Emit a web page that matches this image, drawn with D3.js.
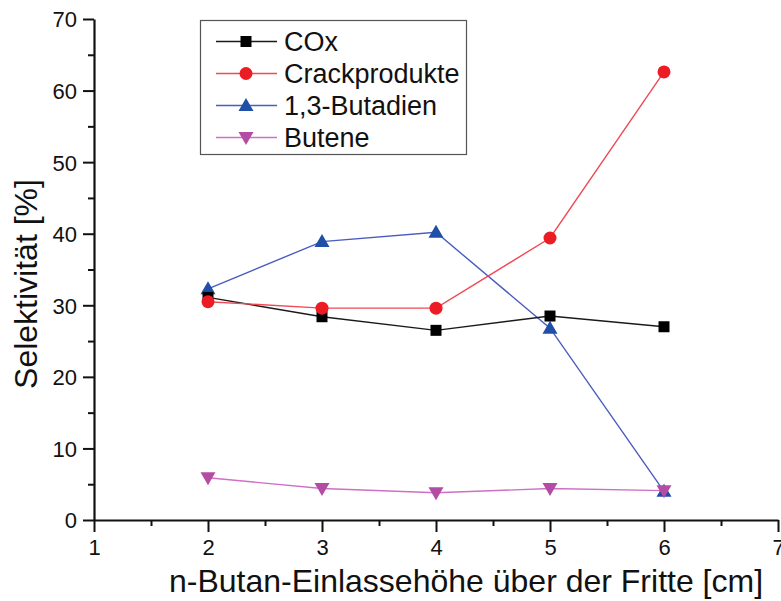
<!DOCTYPE html>
<html>
<head>
<meta charset="utf-8">
<script src="https://cdn.jsdelivr.net/npm/d3@7"></script>
<style>
  html, body { margin: 0; padding: 0; background: #fff; }
  svg { display: block; font-family: "Liberation Sans", Arial, sans-serif; }
</style>
</head>
<body>
<svg id="chart" width="781" height="601"></svg>
<script>
// Inlet height of n-butane above the frit [cm]
const heights = [2, 3, 4, 5, 6];

// Selectivity per product [%]
const cox        = [31.1, 28.4, 26.5, 28.5, 27.0];
const crack      = [30.5, 29.6, 29.6, 39.4, 62.6];
const butadiene  = [32.3, 38.9, 40.2, 26.8, 4.0];
const butenes    = [5.9, 4.4, 3.8, 4.4, 4.1];

const seriesNames = ["COx", "Crackprodukte", "1,3-Butadien", "Butene"];

const xTicks = [1, 2, 3, 4, 5, 6, 7];
const xMinorTicks = [1.5, 2.5, 3.5, 4.5, 5.5, 6.5];
const yTicks = [0, 10, 20, 30, 40, 50, 60, 70];
const yMinorTicks = [5, 15, 25, 35, 45, 55, 65];

const xTitle = "n-Butan-Einlassehöhe über der Fritte [cm]";
const yTitle = "Selektivität [%]";

const svg = d3.select("#chart");

const x = d3.scaleLinear().domain([1, 7]).range([94, 778]);
const y = d3.scaleLinear().domain([0, 70]).range([520, 19]);

// Series styling: marker symbol, fill and line colour
const styles = [
  { values: cox,       fill: "#000000", line: "#1a1a1a", symbol: "square" },
  { values: crack,     fill: "#ec1c24", line: "#ee4a55", symbol: "circle" },
  { values: butadiene, fill: "#1f4fa6", line: "#4a5cc0", symbol: "up" },
  { values: butenes,   fill: "#b54ca3", line: "#cf6fc6", symbol: "down" }
];

function markerPath(kind) {
  switch (kind) {
    case "square": return "M-5.5,-5.5H5.5V5.5H-5.5Z";
    case "circle": return d3.arc()({ innerRadius: 0, outerRadius: 6.5, startAngle: 0, endAngle: 2 * Math.PI });
    case "up":     return "M0,-7.5L7.5,5.5L-7.5,5.5Z";
    case "down":   return "M0,7.5L7.5,-5.5L-7.5,-5.5Z";
  }
}

// Axes
const axisColor = "#111";
const gx = svg.append("g").attr("transform", `translate(0,${y(0)})`)
  .call(d3.axisBottom(x).tickValues(xTicks).tickFormat(d3.format("d")).tickSize(12).tickSizeOuter(0));
const gxm = svg.append("g").attr("transform", `translate(0,${y(0)})`)
  .call(d3.axisBottom(x).tickValues(xMinorTicks).tickFormat("").tickSize(6).tickSizeOuter(0));
const gy = svg.append("g").attr("transform", `translate(${x(1)},0)`)
  .call(d3.axisLeft(y).tickValues(yTicks).tickFormat(d3.format("d")).tickSize(11).tickSizeOuter(0));
const gym = svg.append("g").attr("transform", `translate(${x(1)},0)`)
  .call(d3.axisLeft(y).tickValues(yMinorTicks).tickFormat("").tickSize(6).tickSizeOuter(0));

[gxm, gym].forEach(g => g.select(".domain").remove());
[gx, gxm, gy, gym].forEach(g => {
  g.selectAll(".domain").attr("stroke", axisColor).attr("stroke-width", 2.2);
  g.selectAll(".tick line").attr("stroke", axisColor).attr("stroke-width", 2);
});
gx.selectAll(".tick text")
  .attr("font-size", 22).attr("fill", "#111")
  .attr("y", 0).attr("dy", 0)
  .attr("transform", "translate(0,35)");
gy.selectAll(".tick text")
  .attr("font-size", 22).attr("fill", "#111")
  .attr("x", -17).attr("dy", "0.36em");

// Axis titles
svg.append("text")
  .attr("x", 466).attr("y", 592)
  .attr("text-anchor", "middle")
  .attr("font-size", 32).attr("fill", "#111")
  .text(xTitle);
svg.append("text")
  .attr("transform", "translate(37,284) rotate(-90)")
  .attr("text-anchor", "middle")
  .attr("font-size", 32).attr("fill", "#111")
  .text(yTitle);

// Lines and markers (drawn so that later series sit on top)
const drawOrder = [2, 0, 1, 3];
const line = d3.line().x((d, i) => x(heights[i])).y(d => y(d));

drawOrder.forEach(k => {
  const s = styles[k];
  svg.append("path")
    .attr("d", line(s.values))
    .attr("fill", "none")
    .attr("stroke", s.line)
    .attr("stroke-width", 1.4);
});
drawOrder.forEach(k => {
  const s = styles[k];
  svg.append("g").selectAll("path")
    .data(s.values)
    .join("path")
    .attr("transform", (d, i) => `translate(${x(heights[i])},${y(d)})`)
    .attr("d", markerPath(s.symbol))
    .attr("fill", s.fill);
});

// Legend
const legend = svg.append("g");
legend.append("rect")
  .attr("x", 200.5).attr("y", 20.5)
  .attr("width", 266).attr("height", 134)
  .attr("fill", "#fff")
  .attr("stroke", "#555").attr("stroke-width", 1.2);

const rowY = d3.scalePoint().domain(d3.range(seriesNames.length)).range([41.5, 137.5]);
seriesNames.forEach((name, k) => {
  const s = styles[k];
  const ry = rowY(k);
  legend.append("line")
    .attr("x1", 216).attr("x2", 277).attr("y1", ry).attr("y2", ry)
    .attr("stroke", s.line).attr("stroke-width", 1.4);
  legend.append("path")
    .attr("transform", `translate(246,${ry})`)
    .attr("d", markerPath(s.symbol))
    .attr("fill", s.fill);
  legend.append("text")
    .attr("x", 284).attr("y", ry).attr("dy", "0.36em")
    .attr("font-size", 27).attr("fill", "#111")
    .text(name);
});
</script>
</body>
</html>
